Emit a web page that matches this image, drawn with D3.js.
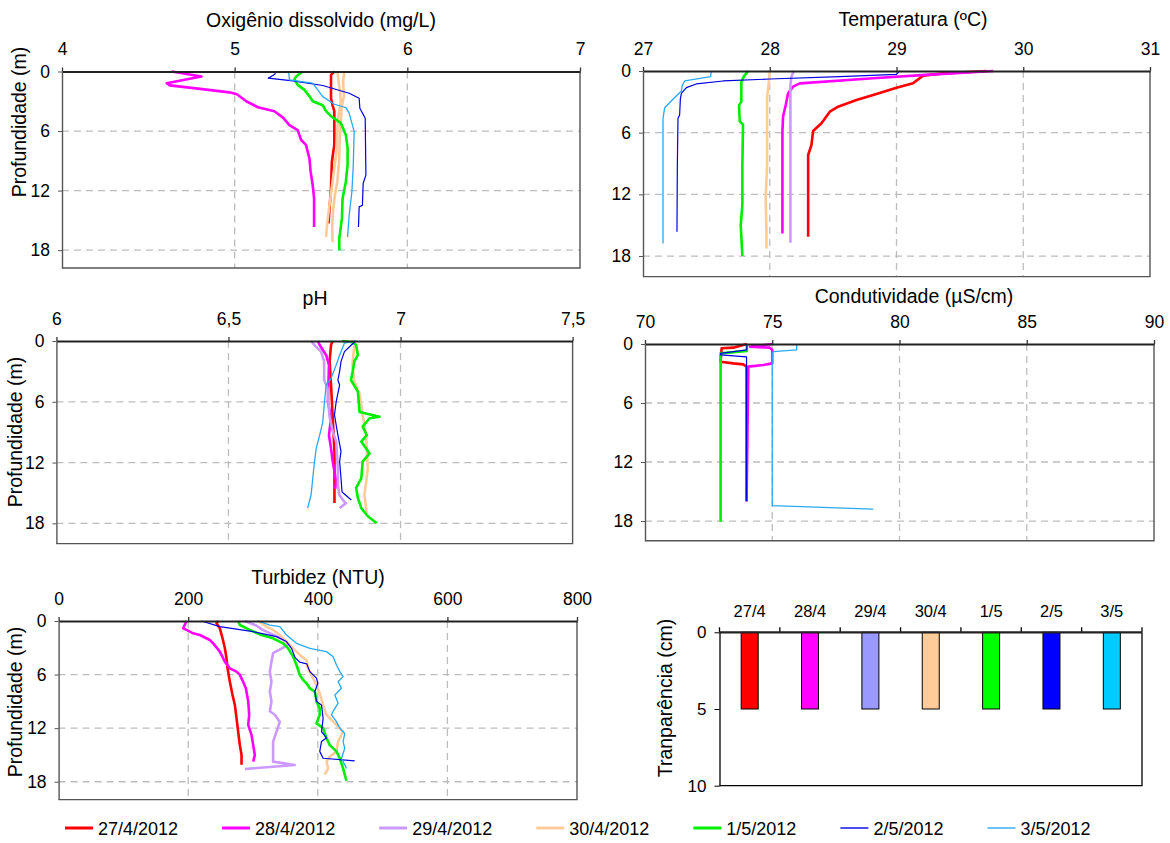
<!DOCTYPE html>
<html>
<head>
<meta charset="utf-8">
<script src="https://cdn.jsdelivr.net/npm/d3@7"></script>
<style>
  body { margin: 0; background: #fff; }
  text { font-family: "Liberation Sans", Arial, sans-serif; fill: #000; }
</style>
</head>
<body>
<svg id="chart" width="1170" height="843"></svg>
<script>
// series (one per sampling day)
var datas = ["27/4/2012", "28/4/2012", "29/4/2012", "30/4/2012", "1/5/2012", "2/5/2012", "3/5/2012"];
var barLabels = ["27/4", "28/4", "29/4", "30/4", "1/5", "2/5", "3/5"];
var transparencia = [5, 5, 5, 5, 5, 5, 5];
var depthTicks = [0, 6, 12, 18];

// profiles: [profundidade (m), valor]
var oxigenio = [
  [[0,5.577],[0.35,5.558],[2.7,5.558],[3.4,5.567],[4.0,5.577],[7.4,5.577],[9.1,5.563],[11.8,5.558],[14.1,5.548],[15.3,5.544]],
  [[0,4.635],[0.5,4.808],[1.18,4.606],[1.4,4.625],[1.75,4.80],[2.1,4.97],[2.3,5.013],[3.0,5.067],[3.6,5.135],[4.0,5.23],[4.65,5.28],[5.4,5.317],[5.9,5.365],[6.9,5.385],[7.4,5.413],[8.75,5.433],[10.1,5.44],[11.45,5.452],[12.8,5.46],[15.66,5.46]],
  [[0,5.635],[1,5.628],[2.5,5.633],[3.5,5.62],[5,5.615],[7,5.608],[9,5.605],[11,5.595],[12.5,5.58],[14,5.57],[15.5,5.565],[17.2,5.567]],
  [[0,5.596],[0.8,5.60],[2,5.61],[3,5.615],[4.5,5.6],[6,5.595],[8,5.59],[10,5.575],[12,5.56],[14,5.545],[15.5,5.535],[16.7,5.529]],
  [[0,5.394],[0.5,5.356],[0.8,5.346],[1.35,5.365],[1.85,5.404],[2.5,5.433],[3.0,5.452],[3.4,5.51],[4.0,5.529],[4.5,5.558],[5.2,5.615],[6.4,5.644],[7.7,5.654],[9.4,5.654],[11.1,5.644],[12.8,5.625],[14.8,5.621],[16.8,5.606],[18.0,5.606]],
  [[0,5.237],[0.27,5.233],[0.67,5.194],[0.94,5.337],[1.41,5.51],[2.19,5.663],[2.69,5.721],[3.7,5.725],[4.71,5.756],[10.44,5.76],[11.28,5.744],[13.47,5.74],[13.64,5.721],[15.66,5.717]],
  [[0,5.313],[0.84,5.317],[1.18,5.452],[2.53,5.51],[3.3,5.577],[3.64,5.644],[4.2,5.663],[6.06,5.692],[9.43,5.687],[12.1,5.679],[14.5,5.663],[16.67,5.654]]
];

var temperatura = [
  [[0,29.711],[0.23,29.368],[0.45,29.21],[1.2,29.13],[1.62,29.0],[2.34,28.816],[2.82,28.684],[3.47,28.539],[3.96,28.474],[5.09,28.408],[5.84,28.342],[7.2,28.329],[8.17,28.303],[16.12,28.303]],
  [[0,29.763],[0.4,29.2],[0.71,28.816],[1.2,28.237],[1.52,28.184],[2.17,28.145],[3.31,28.126],[4.44,28.105],[5.9,28.1],[15.8,28.1]],
  [[0,28.189],[0.55,28.171],[1.36,28.163],[16.7,28.163]],
  [[0,28.0],[0.7,27.995],[2.66,27.979],[9.15,27.979],[12.4,27.968],[15.6,27.974],[17.26,27.974]],
  [[0,27.829],[0.55,27.795],[1.04,27.776],[3.0,27.776],[3.3,27.758],[4.9,27.763],[5.2,27.789],[9.15,27.784],[13.0,27.784],[15.0,27.771],[18.0,27.784]],
  [[0,29.026],[0.32,29.0],[0.55,28.553],[0.78,28.0],[0.97,27.632],[1.26,27.421],[1.62,27.342],[2.17,27.303],[2.66,27.295],[4.28,27.289],[4.61,27.276],[9.15,27.271],[15.63,27.268]],
  [[0,27.539],[0.55,27.534],[0.97,27.329],[1.4,27.31],[1.95,27.303],[2.7,27.24],[3.57,27.171],[4.6,27.158],[16.77,27.158]]
];

var ph = [
  [[0,6.803],[0.4,6.798],[2.0,6.794],[4.3,6.798],[7.6,6.803],[10.9,6.808],[16.0,6.808]],
  [[0,6.76],[0.4,6.765],[1.4,6.784],[2.37,6.792],[6.0,6.789],[7.6,6.798],[9.3,6.792],[10.6,6.798],[11.9,6.803],[13.9,6.813],[14.6,6.81]],
  [[0,6.74],[0.4,6.75],[1.05,6.769],[2.0,6.778],[3.85,6.778],[4.67,6.788],[7.3,6.793],[8.95,6.803],[9.93,6.813],[12.6,6.818],[14.2,6.818],[15.2,6.822],[15.9,6.837],[16.0,6.842],[16.5,6.823]],
  [[0,6.857],[0.4,6.866],[2.37,6.86],[4.0,6.866],[5.2,6.881],[7.3,6.89],[9.3,6.9],[12.6,6.905],[15.2,6.895],[17.0,6.902]],
  [[0,6.830],[0.13,6.861],[0.4,6.871],[1.4,6.876],[2.0,6.866],[3.0,6.861],[3.85,6.856],[5.0,6.876],[7.0,6.881],[7.47,6.939],[7.63,6.91],[8.45,6.89],[9.3,6.902],[9.93,6.886],[11.1,6.91],[11.9,6.89],[13.55,6.886],[14.5,6.871],[15.5,6.876],[16.5,6.886],[17.3,6.905],[18.0,6.931]],
  [[0,6.871],[0.4,6.857],[1.05,6.837],[2.04,6.827],[3.0,6.823],[3.85,6.818],[4.34,6.823],[6.0,6.813],[7.3,6.808],[9.3,6.818],[10.9,6.827],[11.9,6.823],[13.55,6.827],[14.9,6.83],[15.7,6.857]],
  [[0,6.868],[0.2,6.837],[1.4,6.823],[2.37,6.813],[3.7,6.798],[4.3,6.784],[6.0,6.779],[8.0,6.774],[9.3,6.765],[10.6,6.755],[11.9,6.75],[13.55,6.745],[15.2,6.74],[16.5,6.73]]
];

var condutividade = [
  [[0,74.0],[0.37,73.47],[0.44,73.01],[1.8,72.97],[1.97,73.47],[2.07,73.86],[2.3,73.99],[16.0,73.99]],
  [[0,75.0],[0.27,74.12],[0.37,74.9],[0.6,75.0],[1.97,75.0],[2.13,74.65],[2.3,74.06],[16.0,73.99]],
  [],
  [],
  [[0,74.0],[0.7,74.0],[0.95,72.97],[18.07,72.97]],
  [[0,74.0],[0.6,74.0],[0.95,72.97],[1.1,72.97],[1.3,73.99],[16.0,73.99]],
  [[0,75.96],[0.6,75.96],[0.78,75.04],[0.95,75.0],[16.44,75.0],[16.78,78.97]]
];

var turbidez = [
  [[0,246.3],[0.26,243.7],[0.82,248.8],[1.94,253],[3.06,256.6],[4.18,259.1],[5.3,260.7],[6.8,264.3],[8.28,268.4],[9.4,272],[10.9,274.6],[12.4,277.1],[13.9,279.7],[15.0,282.3],[16.1,282.3]],
  [[0,197.4],[0.82,192.3],[1.0,197.4],[1.38,207.7],[1.57,218],[2.13,233.4],[2.5,238.6],[3.43,248.8],[4.55,256.6],[5.3,264.3],[5.67,274.6],[6.04,279.7],[6.8,284.8],[7.54,289],[9.0,292.6],[10.5,294.1],[11.64,292.6],[12.76,297.7],[13.9,300.3],[15.0,302.8],[15.75,300.3]],
  [[0,287.4],[0.5,305],[1.0,315],[1.5,330],[2.0,345],[2.6,355],[2.9,349],[3.6,331],[4.55,328.5],[5.67,326],[6.8,328.5],[7.9,326],[9.0,328.5],[10.1,326],[10.5,333.7],[11.3,341.4],[12.4,336.3],[13.5,331],[15.0,331],[15.75,331],[16.12,364.5],[16.57,287.4]],
  [[0,308],[0.63,320.8],[1.0,331],[1.57,341.4],[2.3,351.7],[3.06,362],[3.8,372.2],[4.37,382.5],[5.3,385],[6.04,390.2],[6.8,395.4],[8.1,403],[9.4,408.2],[10.5,413.4],[11.27,423.7],[12.4,438.9],[13.5,431.4],[14.6,428.8],[15.2,418.5],[15.75,413.4],[16.5,416],[17.2,410.8]],
  [[0,277.1],[0.45,279.7],[1.0,295],[1.57,313],[1.94,331],[2.5,346.5],[3.06,354.2],[4.0,362],[4.93,367.1],[6.04,372.2],[6.6,377.4],[6.98,382.5],[7.54,387.7],[7.9,395.4],[9.0,398],[9.78,403],[10.5,403],[11.46,398],[12.0,408.2],[13.1,413.4],[13.9,418.5],[14.6,428.8],[15.37,433.9],[16.5,439],[17.2,441.6],[17.9,444.2]],
  [[0,220.6],[0.63,248.8],[1.2,300.3],[1.75,336.3],[2.3,351.7],[3.06,359.4],[4.1,365],[4.6,372],[4.8,383],[5.67,387.7],[6.4,398],[7.0,400],[7.9,395.4],[9.0,398],[9.4,405.7],[10.9,408.2],[12.4,405.7],[13.1,413.4],[13.5,405.7],[14.6,403],[15.37,408.2],[15.67,457]],
  [[0,308],[0.45,326],[0.63,341.4],[1.57,351.7],[2.5,367.1],[3.06,387.7],[3.43,413.4],[4.0,423.7],[4.93,428.8],[5.67,434],[6.23,439],[6.8,431.4],[7.54,436.6],[8.28,426.3],[9.2,431.4],[10.1,423.7],[10.5,421.1],[11.27,428.8],[12.0,434],[12.6,441.6],[13.5,439],[14.25,441.6],[15.37,436.6],[16.5,444.2]]
];

var lineColors = ["#FF0000", "#FF00FF", "#CC99FF", "#FFCC99", "#00EE00", "#0000E6", "#29A9F5"];
var lineWidths = [2.6, 2.6, 2.6, 2.6, 2.6, 1.2, 1.3];
var barColors = ["#FF0000", "#FF00FF", "#9999FF", "#FFCC99", "#00FF00", "#0000FF", "#00CCFF"];
// in the O.D. panel the 29/4 profile is drawn in the same peach tone
var odColors = lineColors.slice();
odColors[2] = "#FFC89A";

var svg = d3.select("#chart");
var virgula = function(d){ return String(d).replace(".", ","); };

var panels = [
  {title: "Oxigênio dissolvido (mg/L)", data: oxigenio, colors: odColors, xd: [4, 7], xt: [4, 5, 6, 7],
   x0: 62, x1: 580, y0: 71.5, y1: 268, ymax: 19.8, titleX: 321, titleY: 27, tickY: 55, yTitle: [19, 122]},
  {title: "Temperatura (ºC)", data: temperatura, colors: lineColors, xd: [27, 31], xt: [27, 28, 29, 30, 31],
   x0: 643, x1: 1150, y0: 71, y1: 276.6, ymax: 20, titleX: 913, titleY: 25.5, tickY: 54.5},
  {title: "pH", data: ph, colors: lineColors, xd: [6, 7.5], xt: [6, 6.5, 7, 7.5],
   x0: 56.4, x1: 572.6, y0: 341, y1: 543.6, ymax: 20, titleX: 315, titleY: 305, tickY: 325, yTitle: [15, 432]},
  {title: "Condutividade (\u00B5S/cm)", data: condutividade, colors: lineColors, xd: [70, 90], xt: [70, 75, 80, 85, 90],
   x0: 645, x1: 1154, y0: 344, y1: 540.7, ymax: 20, titleX: 914, titleY: 303, tickY: 327.7},
  {title: "Turbidez (NTU)", data: turbidez, colors: lineColors, xd: [0, 800], xt: [0, 200, 400, 600, 800],
   x0: 58.6, x1: 577, y0: 621, y1: 799.6, ymax: 20, titleX: 318, titleY: 583.7, tickY: 605, yTitle: [15, 702]}
];

panels.forEach(function(p){
  var x = d3.scaleLinear().domain(p.xd).range([p.x0, p.x1]);
  var y = d3.scaleLinear().domain([0, p.ymax]).range([p.y0, p.y1]);
  var g = svg.append("g");

  // dashed grid
  g.selectAll(".gv").data(p.xt.slice(1, -1)).enter().append("line")
    .attr("x1", function(d){ return x(d); }).attr("x2", function(d){ return x(d); })
    .attr("y1", p.y0).attr("y2", p.y1)
    .attr("stroke", "#bdbdbd").attr("stroke-width", 1.3).attr("stroke-dasharray", "7,5");
  g.selectAll(".gh").data(depthTicks.slice(1)).enter().append("line")
    .attr("x1", p.x0).attr("x2", p.x1)
    .attr("y1", function(d){ return y(d); }).attr("y2", function(d){ return y(d); })
    .attr("stroke", "#bdbdbd").attr("stroke-width", 1.3).attr("stroke-dasharray", "7,5");

  // frame (right, bottom)
  g.append("path")
    .attr("d", "M" + p.x1 + "," + p.y0 + "V" + p.y1 + "H" + p.x0)
    .attr("fill", "none").attr("stroke", "#555").attr("stroke-width", 1.4);

  // profiles
  var line = d3.line().x(function(d){ return x(d[1]); }).y(function(d){ return y(d[0]); });
  p.data.forEach(function(serie, i){
    if (!serie.length) return;
    g.append("path").datum(serie)
      .attr("d", line)
      .attr("fill", "none")
      .attr("stroke", p.colors[i])
      .attr("stroke-width", lineWidths[i])
      .attr("stroke-linejoin", "round");
  });

  // axes
  var fmt = p.xd[1] === 7.5 ? virgula : d3.format("d");
  var top = g.append("g").attr("transform", "translate(0," + p.y0 + ")")
    .call(d3.axisTop(x).tickValues(p.xt).tickFormat(fmt).tickSize(4).tickSizeOuter(0).tickPadding(p.y0 - p.tickY - 4));
  top.select(".domain").attr("stroke", "#222").attr("stroke-width", 2.2);
  top.selectAll(".tick line").attr("stroke", "#333").attr("stroke-width", 1.3);
  top.selectAll("text").attr("font-size", "17.5px").attr("dy", 0).attr("fill", "#000");

  var left = g.append("g").attr("transform", "translate(" + p.x0 + ",0)")
    .call(d3.axisLeft(y).tickValues(depthTicks).tickSize(4).tickSizeOuter(0).tickPadding(8));
  left.select(".domain").attr("stroke", "#555").attr("stroke-width", 1.4);
  left.selectAll(".tick line").attr("stroke", "#555");
  left.selectAll("text").attr("font-size", "17.5px").attr("fill", "#000");

  g.append("text").attr("x", p.titleX).attr("y", p.titleY)
    .attr("text-anchor", "middle").attr("font-size", "19.5px").text(p.title);

  if (p.yTitle) {
    g.append("text")
      .attr("transform", "translate(" + p.yTitle[0] + "," + p.yTitle[1] + ") rotate(-90)")
      .attr("text-anchor", "middle").attr("dy", "0.35em")
      .attr("font-size", "19.5px").text("Profundidade (m)");
  }
});

// transparência (bars)
(function(){
  var x0 = 719.5, x1 = 1142, y0 = 632.3, y1 = 785.7;
  var x = d3.scaleBand().domain(barLabels).range([x0, x1]);
  var y = d3.scaleLinear().domain([0, 10]).range([y0, y1]);
  var g = svg.append("g");
  var bw = 17;

  g.append("path")
    .attr("d", "M" + x1 + "," + y0 + "V" + y1 + "H" + x0)
    .attr("fill", "none").attr("stroke", "#000").attr("stroke-width", 1.3);

  g.selectAll("rect").data(transparencia).enter().append("rect")
    .attr("x", function(d, i){ return x(barLabels[i]) + (x.bandwidth() - bw) / 2; })
    .attr("y", y(0))
    .attr("width", bw)
    .attr("height", function(d){ return y(d) - y(0); })
    .attr("fill", function(d, i){ return barColors[i]; })
    .attr("stroke", "#000").attr("stroke-width", 1);

  var bounds = barLabels.map(function(c){ return x(c); }).concat([x1]);
  g.selectAll(".bt").data(bounds).enter().append("line")
    .attr("x1", function(d){ return d; }).attr("x2", function(d){ return d; })
    .attr("y1", y0).attr("y2", y0 - 5)
    .attr("stroke", "#000").attr("stroke-width", 1.3);
  g.append("line").attr("x1", x0).attr("x2", x1).attr("y1", y0).attr("y2", y0)
    .attr("stroke", "#222").attr("stroke-width", 2.2);

  g.selectAll(".cl").data(barLabels).enter().append("text")
    .attr("x", function(d){ return x(d) + x.bandwidth() / 2; })
    .attr("y", 616.5)
    .attr("text-anchor", "middle").attr("font-size", "16.5px")
    .text(function(d){ return d; });

  var left = g.append("g").attr("transform", "translate(" + x0 + ",0)")
    .call(d3.axisLeft(y).tickValues([0, 5, 10]).tickSize(5).tickSizeOuter(0).tickPadding(8));
  left.select(".domain").attr("stroke", "#000").attr("stroke-width", 1.3);
  left.selectAll(".tick line").attr("stroke", "#000");
  left.selectAll("text").attr("font-size", "17px").attr("fill", "#000");

  g.append("text")
    .attr("transform", "translate(665,698) rotate(-90)")
    .attr("text-anchor", "middle").attr("dy", "0.35em")
    .attr("font-size", "19.5px").text("Tranparência (cm)");
})();

// legend
(function(){
  var lg = svg.append("g");
  var lx = 65, ly = 828;
  datas.forEach(function(d, i){
    lg.append("line").attr("x1", lx).attr("x2", lx + 28).attr("y1", ly).attr("y2", ly)
      .attr("stroke", lineColors[i]).attr("stroke-width", i < 5 ? 3 : 1.4);
    var t = lg.append("text").attr("x", lx + 33).attr("y", ly + 6.5)
      .attr("font-size", "18px").text(d);
    lx += 33 + t.node().getComputedTextLength() + 44;
  });
})();
</script>
</body>
</html>
